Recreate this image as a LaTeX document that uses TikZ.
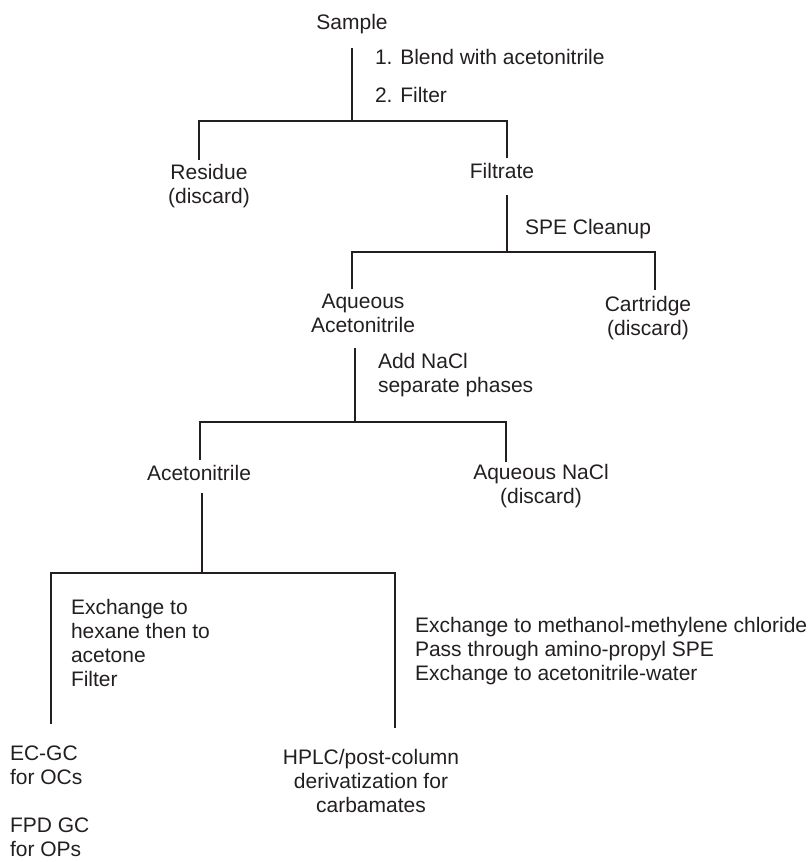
\documentclass[tikz,border=0pt]{standalone}
\usepackage{fontspec}
\setmainfont{Liberation Sans}
\definecolor{ink}{HTML}{231F20}
\begin{document}
\begin{tikzpicture}[x=1pt,y=-1pt,
  txt/.style={inner sep=0pt,outer sep=0pt,text=ink,font=\fontsize{21}{24}\selectfont},
  ctr/.style={txt,anchor=base,align=center},
  lft/.style={txt,anchor=base west,align=left},
  wire/.style={draw=ink,line width=2.8pt,line cap=butt,line join=miter}]
\useasboundingbox (0,0) rectangle (810,862);
% text nodes (anchor = baseline of the last line)
\node[ctr] (sample) at (352,29) {Sample};
\node[lft] (blend) at (375,64) {1. Blend with acetonitrile};
\node[lft] (filt) at (375,102) {2. Filter};
\node[ctr] (residue) at (209,203) {Residue\\(discard)};
\node[ctr] (filtrate) at (502,178) {Filtrate};
\node[lft] (spe) at (525,234) {SPE Cleanup};
\node[ctr] (aqacn) at (363,332) {Aqueous\\Acetonitrile};
\node[ctr] (cart) at (648,335) {Cartridge\\(discard)};
\node[lft] (nacl) at (378,392) {Add NaCl\\separate phases};
\node[ctr] (acn) at (199,480) {Acetonitrile};
\node[ctr] (aqnacl) at (541,503) {Aqueous NaCl\\(discard)};
\node[lft] (exhex) at (71,686) {Exchange to\\hexane then to\\acetone\\Filter};
\node[lft] (exmeth) at (415,680) {Exchange to methanol-methylene chloride\\Pass through amino-propyl SPE\\Exchange to acetonitrile-water};
\node[lft] (ecgc) at (10,784) {EC-GC\\for OCs};
\node[lft] (fpdgc) at (10,856) {FPD GC\\for OPs};
\node[ctr] (hplc) at (371,812) {HPLC/post-column\\derivatization for\\carbamates};
% junction coordinates
\coordinate (a0) at (352,48);
\coordinate (a1) at (352,121);
\coordinate (aL) at (199,121);
\coordinate (aLe) at (199,160);
\coordinate (aR) at (507,121);
\coordinate (aRe) at (507,158);
\coordinate (b0) at (507,195);
\coordinate (b1) at (507,252);
\coordinate (bL) at (352,252);
\coordinate (bLe) at (352,289);
\coordinate (bR) at (655,252);
\coordinate (bRe) at (655,290);
\coordinate (c0) at (355,348);
\coordinate (c1) at (355,422);
\coordinate (cL) at (200,422);
\coordinate (cLe) at (200,460);
\coordinate (cR) at (506,422);
\coordinate (cRe) at (506,462);
\coordinate (d0) at (202,493);
\coordinate (d1) at (202,573);
\coordinate (dL) at (51,573);
\coordinate (dLe) at (51,724);
\coordinate (dR) at (395,573);
\coordinate (dRe) at (395,728);
% connectors
\draw[wire] (a0) -- (a1);
\draw[wire] (aLe) -- (aL) -- (aR) -- (aRe);
\draw[wire] (b0) -- (b1);
\draw[wire] (bLe) -- (bL) -- (bR) -- (bRe);
\draw[wire] (c0) -- (c1);
\draw[wire] (cLe) -- (cL) -- (cR) -- (cRe);
\draw[wire] (d0) -- (d1);
\draw[wire] (dLe) -- (dL) -- (dR) -- (dRe);
\end{tikzpicture}
\end{document}
